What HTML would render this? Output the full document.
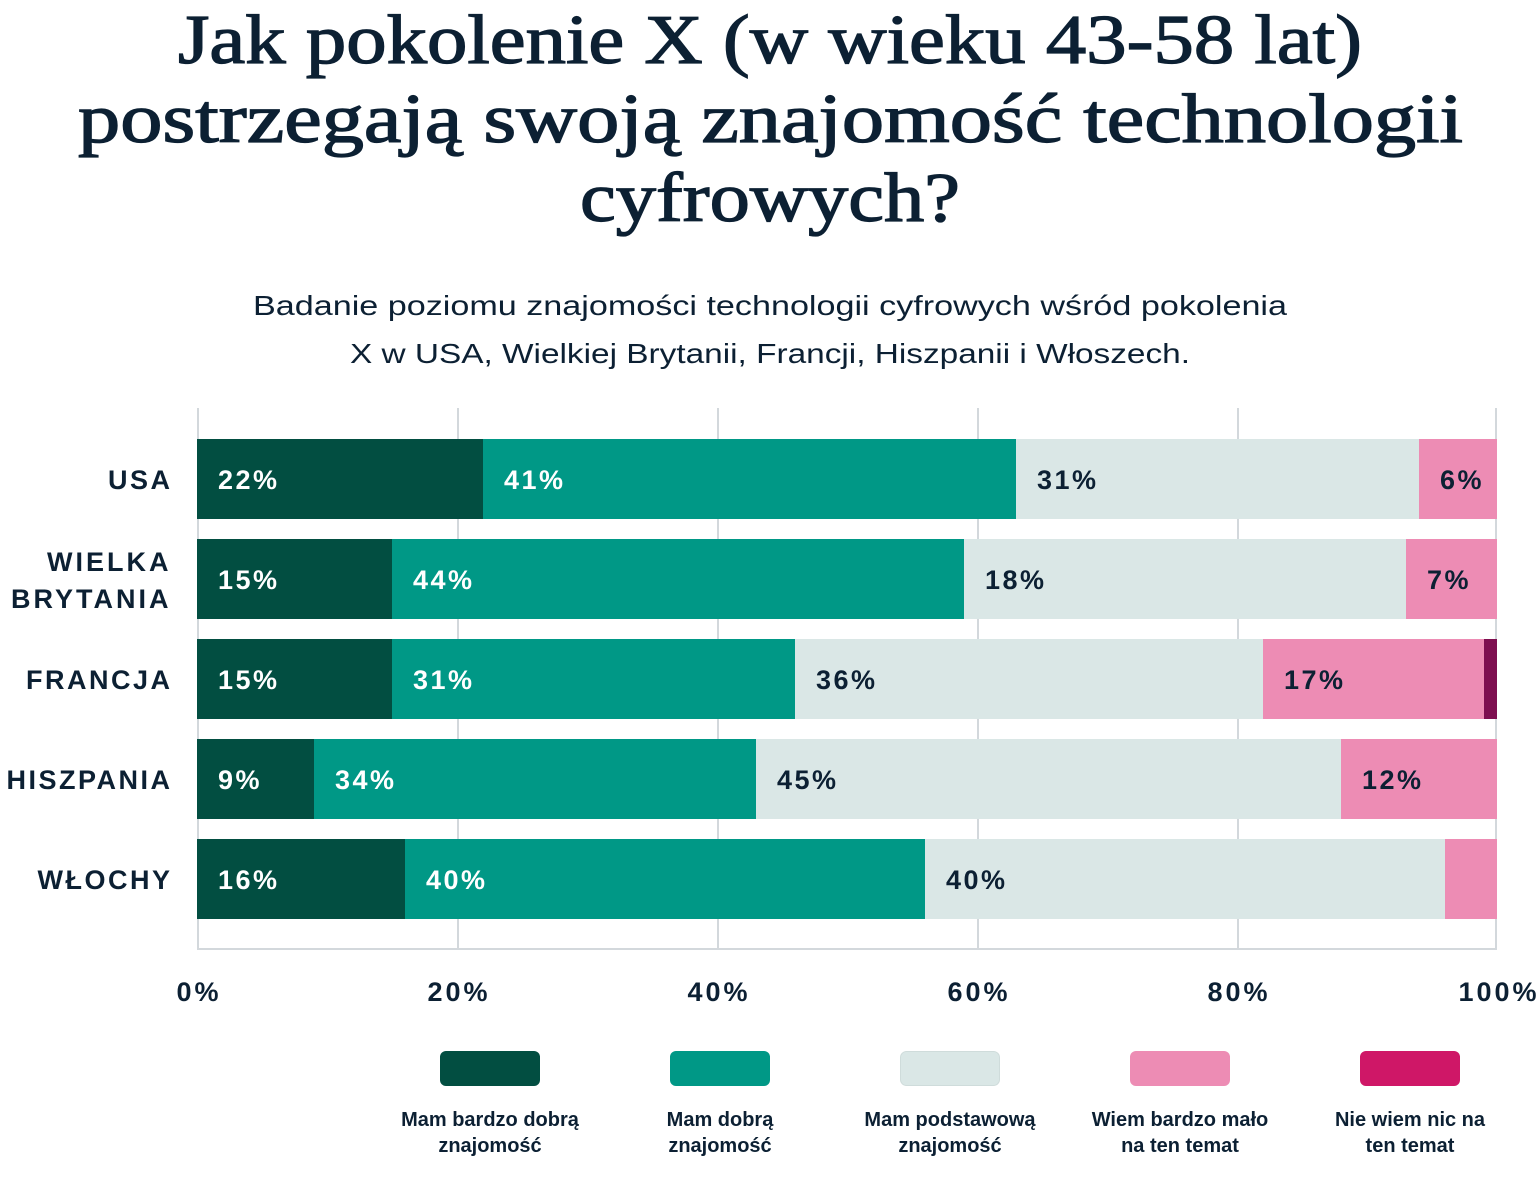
<!DOCTYPE html>
<html><head><meta charset="utf-8"><style>
html,body{margin:0;padding:0;background:#fff;}
svg{display:block;}
.t{font-family:"Liberation Serif",serif;font-weight:normal;fill:#0c2033;stroke:#0c2033;stroke-width:1.3px;}
.s{font-family:"Liberation Sans",sans-serif;font-size:28px;fill:#0c2033;}
.c{font-family:"Liberation Sans",sans-serif;font-weight:bold;font-size:27px;letter-spacing:2.5px;fill:#0c2033;}
.w{fill:#fff;}
.k{font-family:"Liberation Sans",sans-serif;font-weight:bold;font-size:27px;letter-spacing:3px;fill:#0c2033;}
.l{font-family:"Liberation Sans",sans-serif;font-weight:bold;font-size:20px;fill:#0c2033;}
</style></head><body>
<svg width="1540" height="1178" viewBox="0 0 1540 1178" xmlns="http://www.w3.org/2000/svg">
<rect width="1540" height="1178" fill="#fff"/>
<!-- Title -->
<text class="t" x="178" y="63" font-size="70" textLength="1184" lengthAdjust="spacingAndGlyphs">Jak pokolenie X (w wieku 43-58 lat)</text>
<text class="t" x="78" y="142" font-size="70" textLength="1385" lengthAdjust="spacingAndGlyphs">postrzegają swoją znajomość technologii</text>
<text class="t" x="580" y="221" font-size="70" textLength="380" lengthAdjust="spacingAndGlyphs">cyfrowych?</text>
<!-- Subtitle -->
<text class="s" x="253" y="315" textLength="1034" lengthAdjust="spacingAndGlyphs">Badanie poziomu znajomości technologii cyfrowych wśród pokolenia</text>
<text class="s" x="350" y="363" textLength="840" lengthAdjust="spacingAndGlyphs">X w USA, Wielkiej Brytanii, Francji, Hiszpanii i Włoszech.</text>
<!-- Grid -->
<g stroke="#d3d8dc" stroke-width="2">
<line x1="198" y1="408" x2="198" y2="949"/>
<line x1="458" y1="408" x2="458" y2="949"/>
<line x1="718" y1="408" x2="718" y2="949"/>
<line x1="978" y1="408" x2="978" y2="949"/>
<line x1="1238" y1="408" x2="1238" y2="949"/>
<line x1="1496" y1="408" x2="1496" y2="949"/>
<line x1="197" y1="949" x2="1497" y2="949"/>
</g>
<!-- Bars -->
<rect x="197" y="439" width="286" height="80" fill="#024e41"/>
<rect x="483" y="439" width="533" height="80" fill="#009886"/>
<rect x="1016" y="439" width="403" height="80" fill="#dae7e6"/>
<rect x="1419" y="439" width="78" height="80" fill="#ed8cb4"/>

<rect x="197" y="539" width="195" height="80" fill="#024e41"/>
<rect x="392" y="539" width="572" height="80" fill="#009886"/>
<rect x="964" y="539" width="442" height="80" fill="#dae7e6"/>
<rect x="1406" y="539" width="91" height="80" fill="#ed8cb4"/>

<rect x="197" y="639" width="195" height="80" fill="#024e41"/>
<rect x="392" y="639" width="403" height="80" fill="#009886"/>
<rect x="795" y="639" width="468" height="80" fill="#dae7e6"/>
<rect x="1263" y="639" width="221" height="80" fill="#ed8cb4"/>
<rect x="1484" y="639" width="13" height="80" fill="#7e0f50"/>

<rect x="197" y="739" width="117" height="80" fill="#024e41"/>
<rect x="314" y="739" width="442" height="80" fill="#009886"/>
<rect x="756" y="739" width="585" height="80" fill="#dae7e6"/>
<rect x="1341" y="739" width="156" height="80" fill="#ed8cb4"/>

<rect x="197" y="839" width="208" height="80" fill="#024e41"/>
<rect x="405" y="839" width="520" height="80" fill="#009886"/>
<rect x="925" y="839" width="520" height="80" fill="#dae7e6"/>
<rect x="1445" y="839" width="52" height="80" fill="#ed8cb4"/>
<!-- Bar labels -->
<text class="c w" x="218" y="489">22%</text>
<text class="c w" x="504" y="489">41%</text>
<text class="c" x="1037" y="489">31%</text>
<text class="c" x="1440" y="489">6%</text>

<text class="c w" x="218" y="589">15%</text>
<text class="c w" x="413" y="589">44%</text>
<text class="c" x="985" y="589">18%</text>
<text class="c" x="1427" y="589">7%</text>

<text class="c w" x="218" y="689">15%</text>
<text class="c w" x="413" y="689">31%</text>
<text class="c" x="816" y="689">36%</text>
<text class="c" x="1284" y="689">17%</text>

<text class="c w" x="218" y="789">9%</text>
<text class="c w" x="335" y="789">34%</text>
<text class="c" x="777" y="789">45%</text>
<text class="c" x="1362" y="789">12%</text>

<text class="c w" x="218" y="889">16%</text>
<text class="c w" x="426" y="889">40%</text>
<text class="c" x="946" y="889">40%</text>
<!-- Category labels -->
<g text-anchor="end">
<text class="c" x="172.5" y="489">USA</text>
<text class="c" x="171.5" y="571" style="letter-spacing:3px">WIELKA</text>
<text class="c" x="171.5" y="608" style="letter-spacing:3px">BRYTANIA</text>
<text class="c" x="172.5" y="689">FRANCJA</text>
<text class="c" x="172.5" y="789">HISZPANIA</text>
<text class="c" x="172.5" y="889">WŁOCHY</text>
</g>
<!-- Tick labels -->
<g text-anchor="middle">
<text class="k" x="199" y="1001">0%</text>
<text class="k" x="459" y="1001">20%</text>
<text class="k" x="719" y="1001">40%</text>
<text class="k" x="979" y="1001">60%</text>
<text class="k" x="1239" y="1001">80%</text>
<text class="k" x="1499" y="1001">100%</text>
</g>
<!-- Legend -->
<rect x="440" y="1051" width="100" height="35" rx="6" fill="#024e41"/>
<rect x="670" y="1051" width="100" height="35" rx="6" fill="#009886"/>
<rect x="900.5" y="1051.5" width="99" height="34" rx="6" fill="#dae7e6" stroke="#cfdcdb" stroke-width="1"/>
<rect x="1130" y="1051" width="100" height="35" rx="6" fill="#ed8cb4"/>
<rect x="1360" y="1051" width="100" height="35" rx="6" fill="#cf1767"/>
<g text-anchor="middle">
<text class="l" x="490" y="1126">Mam bardzo dobrą</text>
<text class="l" x="490" y="1152">znajomość</text>
<text class="l" x="720" y="1126">Mam dobrą</text>
<text class="l" x="720" y="1152">znajomość</text>
<text class="l" x="950" y="1126">Mam podstawową</text>
<text class="l" x="950" y="1152">znajomość</text>
<text class="l" x="1180" y="1126">Wiem bardzo mało</text>
<text class="l" x="1180" y="1152">na ten temat</text>
<text class="l" x="1410" y="1126">Nie wiem nic na</text>
<text class="l" x="1410" y="1152">ten temat</text>
</g>
</svg>
</body></html>
